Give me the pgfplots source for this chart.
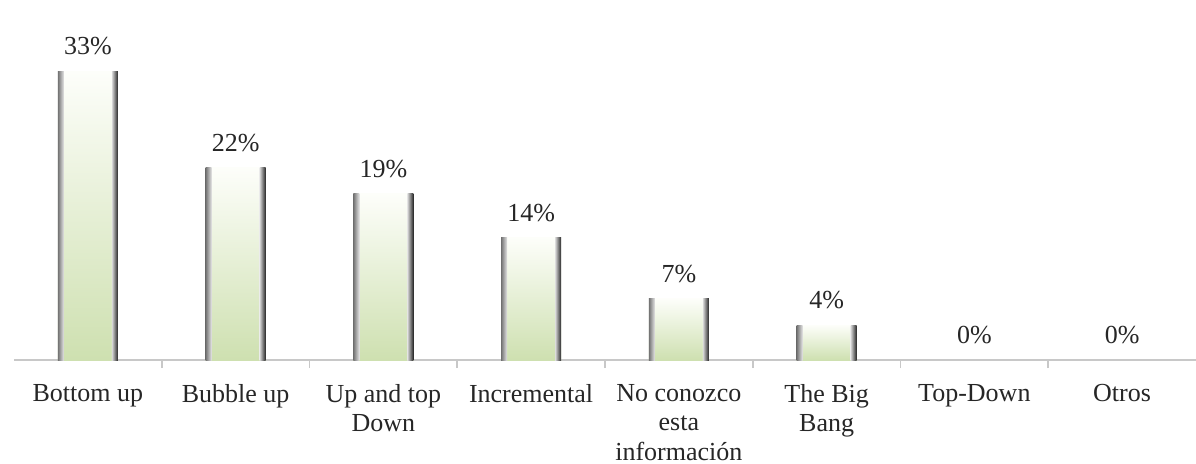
\documentclass[border=0pt]{standalone}
\usepackage{pgfplots}
\pgfplotsset{compat=1.18}
\usepackage{fontspec}
\setmainfont{Liberation Serif}
\definecolor{barbot}{RGB}{206,224,176}
\definecolor{bartop}{RGB}{253,254,250}
\definecolor{txt}{RGB}{38,38,38}
\definecolor{baseln}{RGB}{200,200,200}
\newcommand{\onebar}[2]{%
  \addplot[ybar, bar width=30pt, draw=none, top color=bartop, bottom color=barbot,
    nodes near coords={\pgfmathprintnumber{\pgfplotspointmeta}\%},
    nodes near coords style={anchor=south, text=txt, yshift=4.5pt}] coordinates {(#1,#2)};
  \addplot[ybar, bar width=3pt, bar shift=-13.5pt, draw=none, left color=black!55, right color=black!10] coordinates {(#1,#2)};
  \addplot[ybar, bar width=3pt, bar shift=13.5pt, draw=none, left color=black!15, right color=black!85] coordinates {(#1,#2)};
}
\begin{document}
\begin{tikzpicture}
\path[use as bounding box] (-7pt,-51.5pt) rectangle (591pt,180pt);
\begin{axis}[
  at={(0,0)}, anchor=south west,
  scale only axis, width=591pt, height=175pt,
  xmin=-0.5, xmax=7.5, ymin=0, ymax=40,
  axis x line=bottom, axis y line=none,
  x axis line style={-, baseln, line width=1pt},
  font=\fontsize{13}{14.6}\selectfont,
  /pgf/number format/assume math mode=true,
  xtick={0,...,7},
  xticklabels={Bottom up, Bubble up, {Up and top\\Down}, Incremental, {No conozco\\esta\\información}, {The Big\\Bang}, Top-Down, Otros},
  xticklabel style={align=center, text=txt, yshift=-4.5pt},
  major x tick style={draw=none},
  minor xtick={0.5,1.5,...,6.5},
  minor x tick style={baseln, line width=0.8pt},
  minor tick length=4pt,
  xtick align=outside,
  clip=false,
]
\onebar{0}{33}
\onebar{1}{22}
\onebar{2}{19}
\onebar{3}{14}
\onebar{4}{7}
\onebar{5}{4}
\onebar{6}{0}
\onebar{7}{0}
\end{axis}
\end{tikzpicture}
\end{document}
